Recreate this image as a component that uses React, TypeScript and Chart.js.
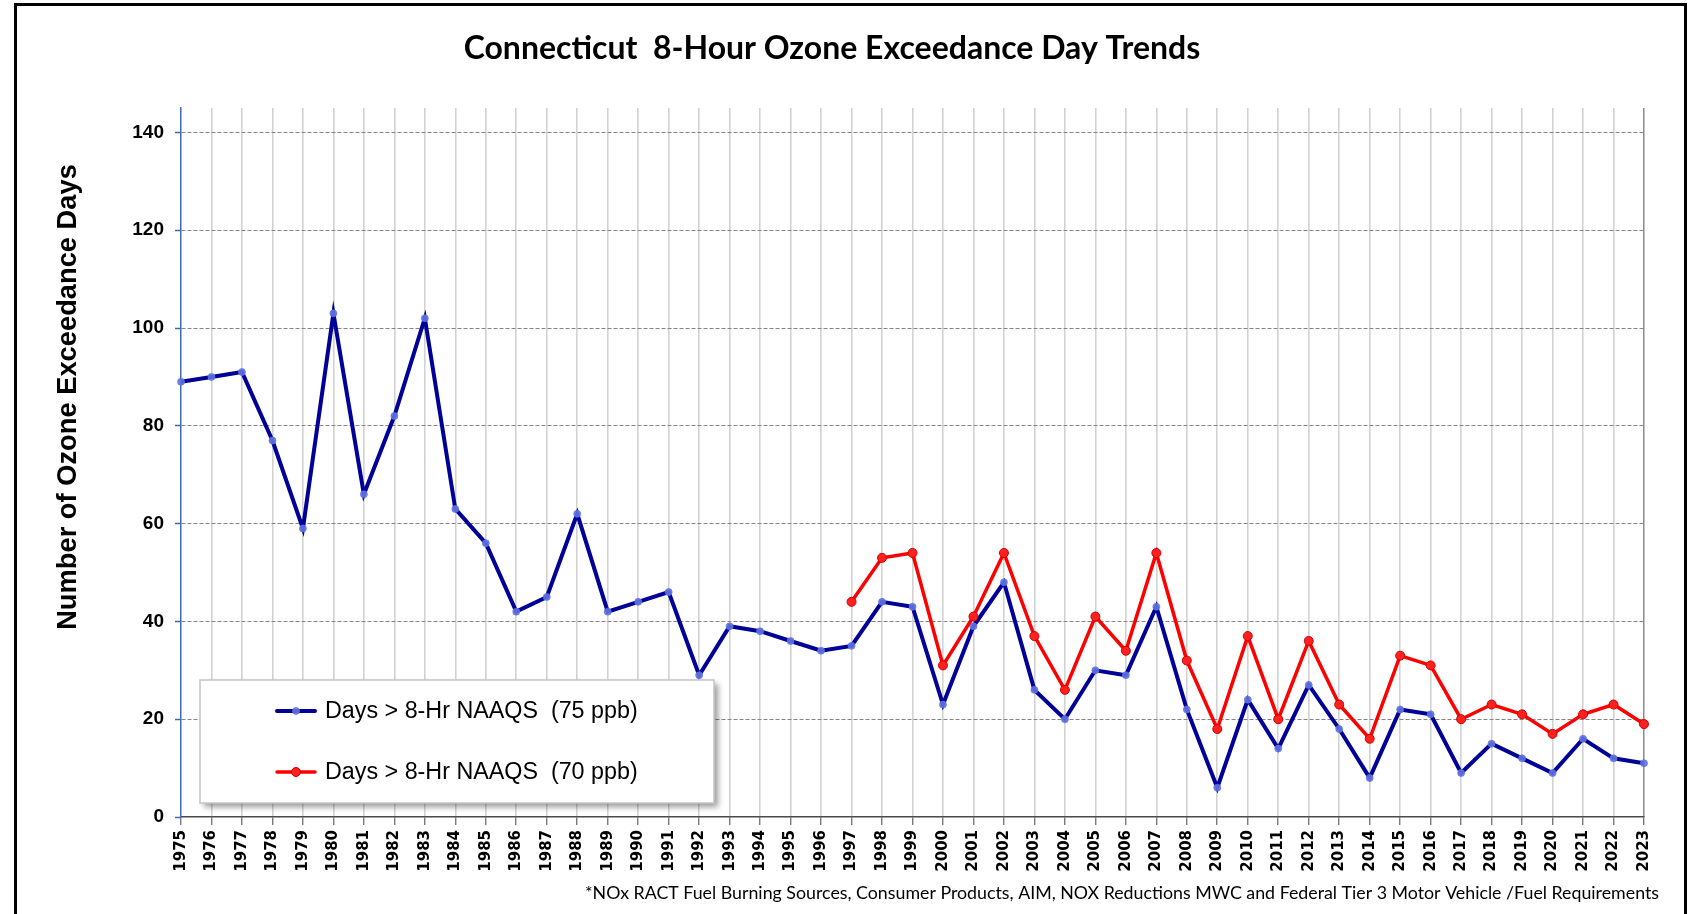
import React, { useEffect, useRef } from 'react';
import { Chart, registerables } from 'chart.js';

Chart.register(...registerables);

const years = [
  '1975', '1976', '1977', '1978', '1979', '1980', '1981', '1982', '1983', '1984',
  '1985', '1986', '1987', '1988', '1989', '1990', '1991', '1992', '1993', '1994',
  '1995', '1996', '1997', '1998', '1999', '2000', '2001', '2002', '2003', '2004',
  '2005', '2006', '2007', '2008', '2009', '2010', '2011', '2012', '2013', '2014',
  '2015', '2016', '2017', '2018', '2019', '2020', '2021', '2022', '2023',
];

const days75ppb = [
  89, 90, 91, 77, 59, 103, 66, 82, 102, 63,
  56, 42, 45, 62, 42, 44, 46, 29, 39, 38,
  36, 34, 35, 44, 43, 23, 39, 48, 26, 20,
  30, 29, 43, 22, 6, 24, 14, 27, 18, 8,
  22, 21, 9, 15, 12, 9, 16, 12, 11,
];

const days70ppb = [
  null, null, null, null, null, null, null, null, null, null,
  null, null, null, null, null, null, null, null, null, null,
  null, null, 44, 53, 54, 31, 41, 54, 37, 26,
  41, 34, 54, 32, 18, 37, 20, 36, 23, 16,
  33, 31, 20, 23, 21, 17, 21, 23, 19,
];

const yTickValues = [0, 20, 40, 60, 80, 100, 120, 140];

const seriesLabels = ['Days > 8-Hr NAAQS  (75 ppb)', 'Days > 8-Hr NAAQS  (70 ppb)'];
const chartTitle = 'Connecticut  8-Hour Ozone Exceedance Day Trends';
const yAxisTitle = 'Number of Ozone Exceedance Days';
const footnote =
  '*NOx RACT Fuel Burning Sources, Consumer Products, AIM, NOX Reductions MWC and Federal Tier 3 Motor Vehicle /Fuel Requirements';

const CANVAS_W = 1667;
const CANVAS_H = 928;

const textPlugin = {
  id: 'customText',
  afterDraw(chart: any) {
    const ctx = chart.ctx;
    ctx.save();
    ctx.fillStyle = '#000';
    ctx.textAlign = 'center';
    ctx.textBaseline = 'alphabetic';
    ctx.font = 'bold 32px Lato';
    ctx.fillText(chartTitle, 815, 53);

    ctx.save();
    ctx.translate(51, 391);
    ctx.rotate(-Math.PI / 2);
    ctx.textBaseline = 'middle';
    ctx.font = 'bold 27.3px "Liberation Sans", Arial, sans-serif';
    ctx.fillText(yAxisTitle, 0, 0);
    ctx.restore();

    ctx.textAlign = 'right';
    ctx.font = '17.8px Lato';
    ctx.fillText(footnote, 1642, 893);
    ctx.restore();
  },
};

const legendPlugin = {
  id: 'customLegend',
  afterDraw(chart: any) {
    const ctx = chart.ctx;
    const bx = 183, by = 674, bw = 514, bh = 123;
    ctx.save();
    ctx.shadowColor = 'rgba(0,0,0,0.4)';
    ctx.shadowBlur = 6;
    ctx.shadowOffsetX = 4;
    ctx.shadowOffsetY = 4;
    ctx.fillStyle = '#ffffff';
    ctx.fillRect(bx, by, bw, bh);
    ctx.restore();
    ctx.save();
    ctx.strokeStyle = '#c4c4c4';
    ctx.lineWidth = 1.5;
    ctx.strokeRect(bx, by, bw, bh);
    const rows = [705, 766];
    chart.data.datasets.forEach((ds: any, i: number) => {
      const y = rows[i];
      ctx.strokeStyle = ds.borderColor;
      ctx.lineWidth = ds.borderWidth;
      ctx.lineCap = 'round';
      ctx.beginPath();
      ctx.moveTo(260, y);
      ctx.lineTo(298, y);
      ctx.stroke();
      ctx.beginPath();
      ctx.arc(279, y, ds.pointRadius, 0, Math.PI * 2);
      ctx.fillStyle = ds.pointBackgroundColor;
      ctx.fill();
      ctx.lineWidth = ds.pointBorderWidth;
      ctx.strokeStyle = ds.pointBorderColor;
      ctx.stroke();
      ctx.fillStyle = '#000';
      ctx.font = '23.3px "Liberation Sans", Arial, sans-serif';
      ctx.textAlign = 'left';
      ctx.textBaseline = 'middle';
      ctx.fillText(seriesLabels[i], 308, y + 1);
    });
    ctx.restore();
  },
};

export default function App() {
  const canvasRef = useRef<HTMLCanvasElement | null>(null);

  useEffect(() => {
    document.body.style.overflow = 'hidden';
    const canvas = canvasRef.current;
    if (!canvas) return;
    const chart = new Chart(canvas, {
      type: 'line',
      data: {
        labels: years,
        datasets: [
          {
            label: seriesLabels[0],
            data: days75ppb,
            borderColor: '#000099',
            borderWidth: 4,
            pointRadius: 3.5,
            pointBackgroundColor: 'rgba(95,115,225,0.9)',
            pointBorderColor: 'rgba(95,115,225,0.7)',
            pointBorderWidth: 1,
            order: 1,
            tension: 0,
          },
          {
            label: seriesLabels[1],
            data: days70ppb,
            borderColor: '#ff0000',
            borderWidth: 3.5,
            pointRadius: 4.5,
            pointBackgroundColor: '#ff2020',
            pointBorderColor: '#d00000',
            pointBorderWidth: 1,
            order: 0,
            tension: 0,
          },
        ],
      },
      options: {
        animation: false,
        responsive: false,
        devicePixelRatio: 1,
        layout: { padding: { left: 0, top: 102, right: 40, bottom: 0 } },
        plugins: {
          legend: { display: false },
          title: { display: false },
          tooltip: { enabled: false },
        },
        scales: {
          x: {
            type: 'category',
            offset: false,
            afterFit(scale: any) {
              scale.height = 117;
            },
            grid: {
              color: (c: any) =>
                c.index === 0 ? 'rgba(0,0,0,0)' : c.index === years.length - 1 ? '#8c8c8c' : '#d2d2d2',
              lineWidth: (c: any) => (c.index === years.length - 1 ? 1.5 : 1.6),
              drawTicks: true,
              tickLength: 8,
              tickColor: '#444',
              tickWidth: 1,
            },
            border: { display: true, color: '#4a4a4a', width: 1.5 },
            ticks: {
              autoSkip: false,
              minRotation: 90,
              maxRotation: 90,
              padding: 5,
              color: '#000',
              font: { family: '"DejaVu Sans"', weight: 'bold', size: 15 },
            },
          },
          y: {
            min: 0,
            max: 145,
            afterFit(scale: any) {
              scale.width = 164;
            },
            afterBuildTicks(scale: any) {
              scale.ticks = yTickValues.map((v) => ({ value: v }));
            },
            grid: {
              color: (c: any) => (c.tick && c.tick.value === 0 ? 'rgba(0,0,0,0)' : '#858585'),
              lineWidth: 1,
              drawTicks: true,
              tickLength: 6,
              tickColor: '#3d6cb3',
              tickWidth: 1.5,
              tickBorderDash: [],
            },
            border: { display: true, color: '#3d6cb3', width: 1.5, dash: [4, 2] },
            ticks: {
              padding: 11,
              color: '#000',
              font: { family: '"Liberation Sans", Arial, sans-serif', weight: 'bold', size: 19 },
            },
          },
        },
      } as any,
      plugins: [textPlugin, legendPlugin],
    });
    return () => chart.destroy();
  }, []);

  return (
    <div
      style={{
        position: 'fixed',
        left: 14,
        top: 3,
        width: 1673,
        height: 940,
        border: '3px solid #000',
        boxSizing: 'border-box',
        background: '#fff',
      }}
    >
      <canvas
        ref={canvasRef}
        width={CANVAS_W}
        height={CANVAS_H}
        style={{ display: 'block', width: CANVAS_W, height: CANVAS_H }}
      />
    </div>
  );
}
